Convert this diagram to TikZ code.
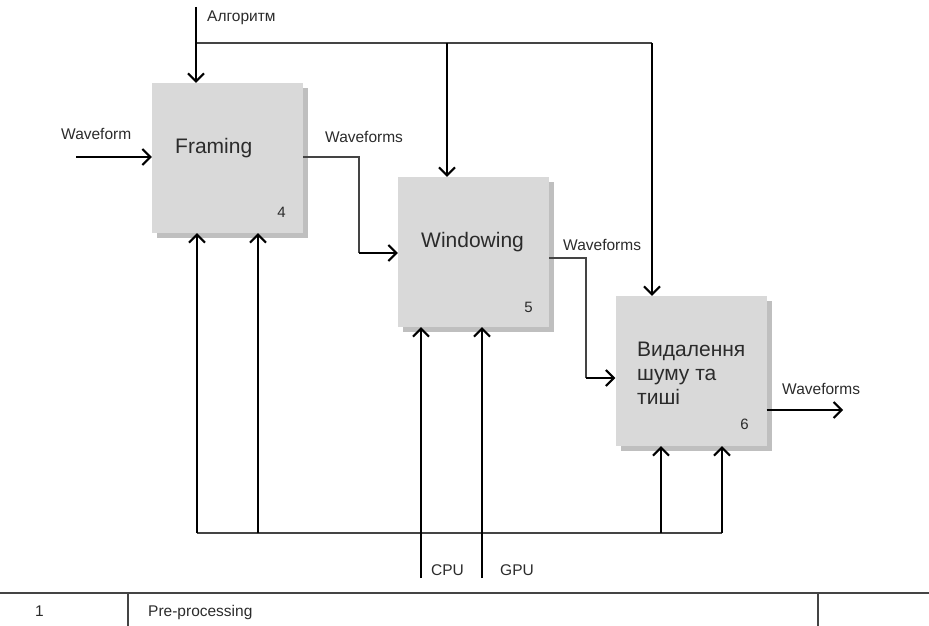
\documentclass[tikz,border=0pt]{standalone}
\usepackage{fontspec}
\setmainfont{Liberation Sans}
\usetikzlibrary{arrows.meta,shadows}
\definecolor{boxgray}{HTML}{D9D9D9}
\definecolor{shadowgray}{HTML}{BFBFBF}
\definecolor{inkgray}{HTML}{2B2B2B}
\definecolor{linegray}{HTML}{444444}
\begin{document}
\begin{tikzpicture}[x=1pt,y=-1pt,
  procbox/.style={rectangle, fill=boxgray, minimum width=151pt, minimum height=150pt,
    inner sep=0pt, drop shadow={shadow xshift=5pt, shadow yshift=-5pt, fill=shadowgray, opacity=1}},
  title/.style={inner sep=0pt, text=inkgray, font=\fontsize{21}{24}\selectfont, align=left},
  num/.style={inner sep=0pt, text=inkgray, font=\fontsize{15}{16}\selectfont, anchor=base east},
  lbl/.style={inner sep=0pt, text=inkgray, font=\fontsize{15.5}{17}\selectfont, anchor=base west},
  arrowline/.style={draw=black, line width=2pt, -{Straight Barb[length=8pt,width=16pt]}},
  thinline/.style={draw=linegray, line width=1.2pt}
]
\useasboundingbox (0,0) rectangle (929,626);

% process boxes
\node[procbox] (f) at (227.5,158) {};
\node[procbox] (w) at (473.5,252) {};
\node[procbox] (d) at (691,371) {};

% box titles and numbers
\node[title, anchor=base west] (ft) at (175,153) {Framing};
\node[title, anchor=base west] (wt) at (421,247) {Windowing};
\node[title, anchor=north west] (dt) at (637,342) {Видалення\\шуму та\\тиші};
\node[num] (fn) at (286,217) {4};
\node[num] (wn) at (533,312) {5};
\node[num] (dn) at (749,429) {6};

% control: algorithm bus
\coordinate (algtop) at (196,7);
\coordinate (algbus) at (196,43);
\draw[thinline] (algbus) -- (652,43);
\draw[arrowline] (algtop) -- (algtop |- f.north);
\draw[arrowline] (447,43) -- (447,43 |- w.north);
\draw[arrowline] (652,43) -- (652,43 |- d.north);
\node[lbl] (alg) at (207,22) {Алгоритм};

% input
\coordinate (in) at (76,157);
\draw[arrowline] (in) -- (in -| f.west);
\node[lbl] (inl) at (61,139) {Waveform};

% framing -> windowing
\draw[thinline] (f.east |- 0,157) -- (359,157) -- (359,253);
\draw[arrowline] (359,253) -- (w.west |- 0,253);
\node[lbl] (fo) at (325,142) {Waveforms};

% windowing -> noise removal
\draw[thinline] (w.east |- 0,258) -- (586,258) -- (586,378);
\draw[arrowline] (586,378) -- (d.west |- 0,378);
\node[lbl] (wo) at (563,250) {Waveforms};

% output
\draw[arrowline] (d.east |- 0,410) -- (843,410);
\node[lbl] (do) at (782,394) {Waveforms};

% mechanisms
\draw[thinline] (197,533) -- (722,533);
\draw[arrowline] (197,533) -- (197,533 |- f.south);
\draw[arrowline] (258,533) -- (258,533 |- f.south);
\draw[arrowline] (661,533) -- (661,533 |- d.south);
\draw[arrowline] (722,533) -- (722,533 |- d.south);
\coordinate (cpu) at (421,578);
\coordinate (gpu) at (482,578);
\draw[arrowline] (cpu) -- (cpu |- w.south);
\draw[arrowline] (gpu) -- (gpu |- w.south);
\node[lbl] (cpul) at (431,575) {CPU};
\node[lbl] (gpul) at (500,575) {GPU};

% footer table
\draw[thinline] (0,593) -- (929,593);
\draw[thinline] (128,593) -- (128,626);
\draw[thinline] (818,593) -- (818,626);
\node[lbl] (tn) at (35,616) {1};
\node[lbl] (tt) at (148,616) {Pre-processing};
\end{tikzpicture}
\end{document}
